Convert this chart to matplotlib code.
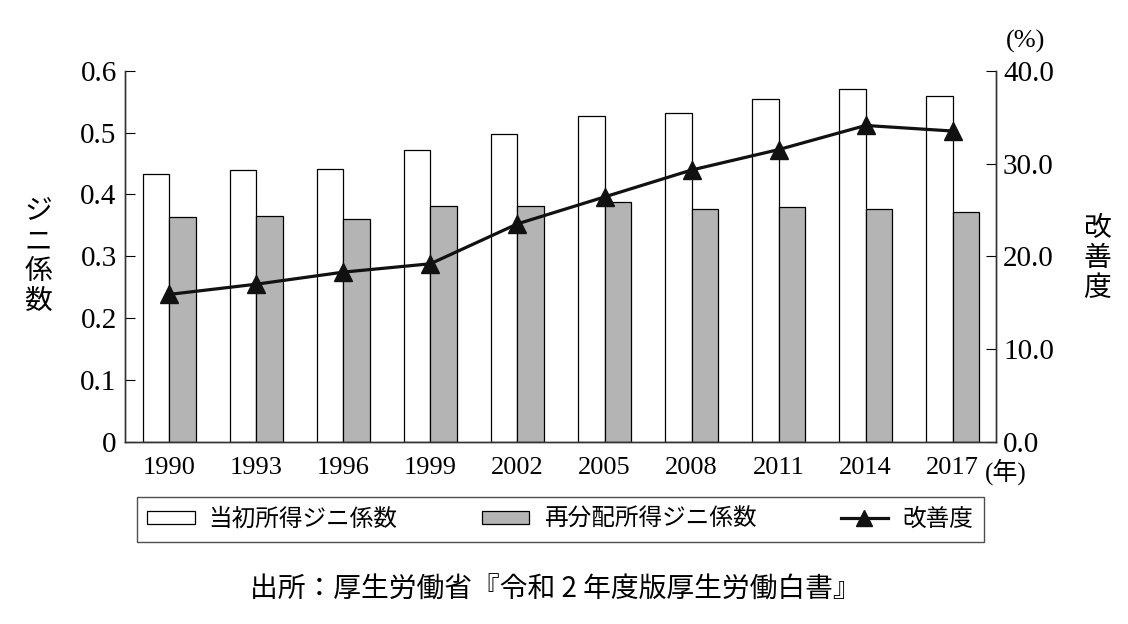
import numpy as np
import matplotlib
matplotlib.use("Agg")
import matplotlib.pyplot as plt
from matplotlib.patches import Patch
from matplotlib.lines import Line2D

years = ["1990", "1993", "1996", "1999", "2002", "2005", "2008", "2011", "2014", "2017"]
initial_gini = [0.4334, 0.4394, 0.4412, 0.4720, 0.4983, 0.5263, 0.5318, 0.5536, 0.5704, 0.5594]
redist_gini = [0.3643, 0.3645, 0.3606, 0.3814, 0.3812, 0.3873, 0.3758, 0.3791, 0.3759, 0.3721]
improvement = [15.9, 17.0, 18.3, 19.2, 23.5, 26.4, 29.3, 31.5, 34.1, 33.5]

SERIF = ["Liberation Serif", "Noto Sans CJK JP"]
JP = ["Noto Sans CJK JP", "DejaVu Sans"]
plt.rcParams["font.family"] = SERIF

fig = plt.figure(figsize=(11.28, 6.24), dpi=100)
ax = fig.add_axes([125 / 1128, 1 - 442 / 624, (996 - 125) / 1128, (442 - 70.7) / 624])
ax2 = ax.twinx()

x = np.arange(len(years))
w = 0.305
ax.bar(x - w / 2, initial_gini, w, color="white", edgecolor="black", linewidth=0.9)
ax.bar(x + w / 2, redist_gini, w, color="#b4b4b4", edgecolor="black", linewidth=0.9)
ax2.plot(x, improvement, color="#111111", linewidth=2.3, marker="^", markersize=13)

ax.set_xlim(-0.508, 9.497)
ax.set_ylim(0, 0.6)
ax2.set_ylim(0, 40)
ax.set_yticks([0, 0.1, 0.2, 0.3, 0.4, 0.5, 0.6])
ax.set_yticklabels(["0", "0.1", "0.2", "0.3", "0.4", "0.5", "0.6"])
ax2.set_yticks([0, 10, 20, 30, 40])
ax2.set_yticklabels(["0.0", "10.0", "20.0", "30.0", "40.0"])
ax.set_xticks(x)
ax.set_xticklabels(years)

for a in (ax, ax2):
    a.spines["top"].set_visible(False)
    for s in ("left", "right", "bottom"):
        a.spines[s].set_color("#333333")
        a.spines[s].set_linewidth(1.0)
ax.tick_params(axis="y", direction="in", length=7, pad=6, labelsize=21)
ax2.tick_params(axis="y", direction="in", length=7, pad=5, labelsize=21)
ax.tick_params(axis="x", length=0, pad=11, labelsize=19)

fig.text(38 / 1128, 1 - 256 / 624, "\n".join("ジニ係数"), family=JP, fontsize=20,
         ha="center", va="center", linespacing=1.0)
fig.text(1097 / 1128, 1 - 258 / 624, "\n".join("改善度"), family=JP, fontsize=20,
         ha="center", va="center", linespacing=1.0)
fig.text(1026 / 1128, 1 - 41 / 624, "(%)", fontsize=19, ha="center", va="center")
fig.text(1006 / 1128, 1 - 472 / 624, "(年)", family=SERIF, fontsize=18, ha="center", va="center")

handles = [
    Patch(facecolor="white", edgecolor="black", linewidth=0.9),
    Patch(facecolor="#b4b4b4", edgecolor="black", linewidth=0.9),
    Line2D([], [], color="#111111", linewidth=2.3, marker="^", markersize=11),
]
labels = ["当初所得ジニ係数", "再分配所得ジニ係数", "改善度"]
leg = fig.legend(handles, labels, loc="center", ncol=3,
                 bbox_to_anchor=(136.7 / 1128, 1 - 545 / 624, 847 / 1128, 51 / 624),
                 mode="expand", frameon=True, fancybox=False, handlelength=2.0,
                 handleheight=0.5, borderpad=0.45, borderaxespad=0, handletextpad=0.6,
                 prop={"family": JP, "size": 17})
leg.get_frame().set_edgecolor("#222222")
leg.get_frame().set_linewidth(1.0)

fig.text(555 / 1128, 1 - 590 / 624, "出所：厚生労働省『令和 2 年度版厚生労働白書』", family=JP,
         fontsize=20, ha="center", va="center")

fig.savefig("out.png", dpi=100)
